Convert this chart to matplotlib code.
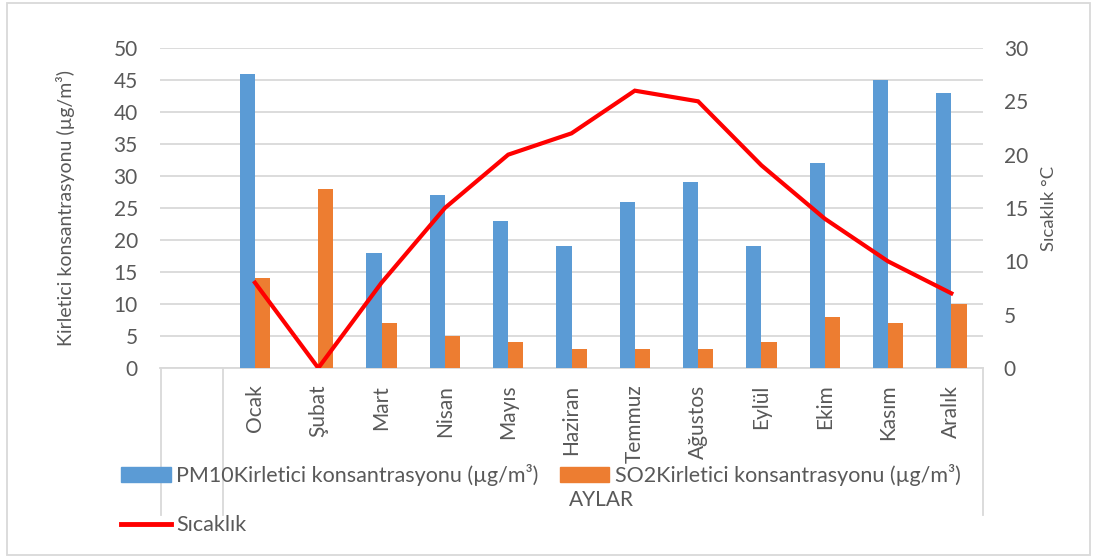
import matplotlib
matplotlib.use("Agg")
import matplotlib.pyplot as plt
from matplotlib.patches import Patch, Rectangle
from matplotlib.lines import Line2D

months = ["", "Ocak", "Şubat", "Mart", "Nisan", "Mayıs", "Haziran", "Temmuz",
          "Ağustos", "Eylül", "Ekim", "Kasım", "Aralık"]
pm10 = [None, 46, 0, 18, 27, 23, 19, 26, 29, 19, 32, 45, 43]
so2 = [None, 14, 28, 7, 5, 4, 3, 3, 3, 4, 8, 7, 10]
temp = [None, 8, 0, 8, 15, 20, 22, 26, 25, 19, 14, 10, 7]

plt.rcParams['font.family'] = ['Lato', 'DejaVu Sans']
GRAY = "#595959"
GRID = "#D9D9D9"

fig = plt.figure(figsize=(10.97, 5.58), dpi=100)
W, H = 1097, 558
ax = fig.add_axes([160 / W, 1 - 368 / H, (983 - 160) / W, (368 - 48) / H])
ax2 = ax.twinx()

idx = [i for i in range(len(months)) if pm10[i] is not None]
bw = 0.24
ax.bar([i - bw / 2 for i in idx], [pm10[i] for i in idx], width=bw, color="#5B9BD5", zorder=3)
ax.bar([i + bw / 2 for i in idx], [so2[i] for i in idx], width=bw, color="#ED7D31", zorder=3)
ax2.plot(idx, [temp[i] for i in idx], color="#FF0000", lw=3.0, solid_joinstyle='miter', zorder=4)

ax.set_xlim(-0.5, len(months) - 0.5)
ax.set_ylim(0, 50)
ax2.set_ylim(0, 30)
ax.set_yticks(range(0, 51, 5))
ax2.set_yticks(range(0, 31, 5))
ax.yaxis.grid(True, color=GRID, lw=1.3, zorder=0)
ax.set_axisbelow(True)
for a in (ax, ax2):
    for s in a.spines.values():
        s.set_visible(False)
    a.tick_params(axis='y', length=0, labelsize=15, colors=GRAY)
ax.tick_params(axis='y', pad=16)
ax2.tick_params(axis='y', pad=15)
ax.spines['bottom'].set_visible(True)
ax.spines['bottom'].set_color(GRID)
ax.spines['bottom'].set_linewidth(1.3)

ax.set_xticks(range(len(months)))
ax.set_xticklabels(months, rotation=90, fontsize=15, color=GRAY)
ax.tick_params(axis='x', length=0, pad=12)

ax.set_ylabel("Kirletici konsantrasyonu (µg/m³)", fontsize=14, color=GRAY, labelpad=28)
ax2.set_ylabel("Sıcaklık °C", fontsize=13.3, color=GRAY, rotation=90, labelpad=9)

# category axis box lines
for xp in (161, 223, 983):
    fig.add_artist(Line2D([xp / W, xp / W], [1 - 368 / H, 1 - 515 / H], color=GRID, lw=1.3))

fig.text(601 / W, 1 - 500 / H, "AYLAR", ha='center', va='center', fontsize=15, color=GRAY)

handles = [Patch(color="#5B9BD5"), Line2D([], [], color="#FF0000", lw=3.5),
           Patch(color="#ED7D31")]
labels = ["PM10Kirletici konsantrasyonu (µg/m³)", "Sıcaklık",
          "SO2Kirletici konsantrasyonu (µg/m³)"]
leg = fig.legend(handles, labels, ncol=2, loc='upper left',
                 bbox_to_anchor=(121 / W, 1 - 464 / H), frameon=False,
                 fontsize=15.5, labelcolor=GRAY, handlelength=2.3, handleheight=0.7,
                 handletextpad=0.25, labelspacing=1.35, columnspacing=1.0,
                 borderpad=0, borderaxespad=0)

fig.add_artist(Rectangle((7 / W, 1 - 555 / H), (1090 - 7) / W, (555 - 3) / H,
                         transform=fig.transFigure, fill=False, edgecolor=GRID, lw=1.3))

fig.savefig("out.png", dpi=100)
